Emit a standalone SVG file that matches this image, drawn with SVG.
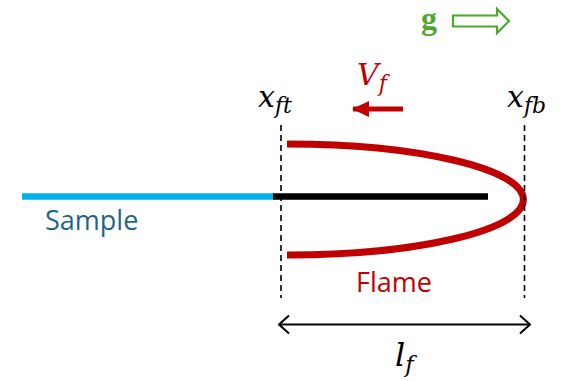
<svg xmlns="http://www.w3.org/2000/svg" width="564" height="381" viewBox="0 0 564 381">
<style>
.math{font-family:"DejaVu Serif",serif;font-style:italic;fill:#000}
.lbl{font-family:"Open Sans","Noto Sans",sans-serif;font-size:27px}
.dash{stroke:#000;stroke-width:1.6;stroke-dasharray:6,4;fill:none}
</style>
<defs>
<marker id="open" viewBox="0 0 12 20" refX="11" refY="10" markerWidth="12" markerHeight="20" markerUnits="userSpaceOnUse" orient="auto-start-reverse">
<path d="M1,1 L11,10 L1,19" fill="none" stroke="#000" stroke-width="2"/>
</marker>
<marker id="redtri" viewBox="0 0 17 16" refX="1" refY="8" markerWidth="17" markerHeight="16" markerUnits="userSpaceOnUse" orient="auto">
<path d="M0,8 L17,0 L17,16 Z" fill="#C00000"/>
</marker>
</defs>
<g id="gravity">
<text x="421" y="29" font-family="Liberation Serif,DejaVu Serif,serif" font-weight="bold" font-size="32" fill="#4EA72E">g</text>
<path d="M453,15.5 H497 V9 L509,21 L497,33 V26.5 H453 Z" fill="none" stroke="#4EA72E" stroke-width="2.2" stroke-linejoin="miter"/>
</g>
<g id="sample">
<line x1="22" y1="196.5" x2="274" y2="196.5" stroke="#00B0F0" stroke-width="6.5"/>
<line x1="273" y1="196.5" x2="488" y2="196.5" stroke="#000" stroke-width="6.5"/>
<text class="lbl" x="45" y="230" fill="#1F6587">Sample</text>
</g>
<g id="flame">
<path d="M287,144 A236.5,55.5 0 0 1 287,255" fill="none" stroke="#C00000" stroke-width="7"/>
<text class="lbl" x="356" y="292" fill="#C00000">Flame</text>
</g>
<g id="xft">
<line class="dash" x1="281" y1="125" x2="281" y2="298"/>
<text class="math" x="258" y="107" font-size="30">x<tspan font-size="22" dy="6">ft</tspan></text>
</g>
<g id="xfb">
<line class="dash" x1="524.5" y1="125" x2="524.5" y2="298"/>
<text class="math" x="507" y="107" font-size="30">x<tspan font-size="22" dy="6">fb</tspan></text>
</g>
<g id="connectors">
<line x1="353" y1="109" x2="403" y2="109" stroke="#C00000" stroke-width="5" marker-start="url(#redtri)"/>
<line x1="279" y1="324.5" x2="530" y2="324.5" stroke="#000" stroke-width="2" marker-start="url(#open)" marker-end="url(#open)"/>
</g>
<g id="vf">
<text class="math" x="357" y="85" font-size="30" style="fill:#C00000">V<tspan font-size="22" dy="6">f</tspan></text>
</g>
<g id="lf">
<text class="math" x="395" y="366" font-size="32">l<tspan font-size="23" dy="6">f</tspan></text>
</g>
</svg>
